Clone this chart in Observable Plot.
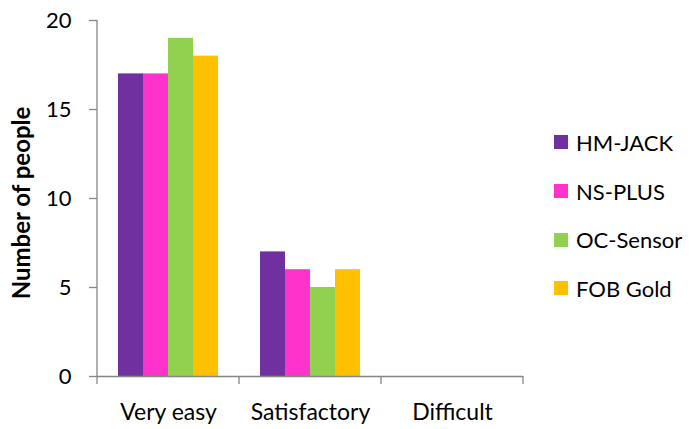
<!DOCTYPE html>
<html><head><meta charset="utf-8">
<script src="https://cdn.jsdelivr.net/npm/d3@7"></script>
<script src="https://cdn.jsdelivr.net/npm/@observablehq/plot@0.6"></script>
<style>
body{margin:0;background:#fff;font-family:Lato, sans-serif;}
#wrap{position:relative;width:691px;height:429px;overflow:hidden;}
#legend{position:absolute;left:554px;top:118px;}
.item{display:flex;align-items:center;height:48.7px;font-size:22px;color:#000;}
.sw{width:14px;height:14px;margin-right:8px;flex:none;}
</style></head><body>
<div id="wrap"><div id="chart"></div><div id="legend"></div></div>
<script>
const categories = ["Very easy", "Satisfactory", "Difficult"];
const series = ["HM-JACK", "NS-PLUS", "OC-Sensor", "FOB Gold"];
const colors = ["#7030A0", "#FF33CC", "#92D050", "#FFC000"];
const veryEasy = [17, 17, 19, 18];
const satisfactory = [7, 6, 5, 6];
const difficult = [0, 0, 0, 0];
const yTicks = [0, 5, 10, 15, 20];
const yTitle = "Number of people";

const valuesByCategory = [veryEasy, satisfactory, difficult];
const data = [];
categories.forEach((c, i) => series.forEach((s, j) => data.push({category: c, series: s, value: valuesByCategory[i][j]})));

const axisColor = "#868686";
const chart = Plot.plot({
  width: 691, height: 429,
  marginLeft: 97, marginRight: 168, marginTop: 20, marginBottom: 53,
  style: {fontFamily: "Lato, sans-serif", fontSize: "22px", color: "#000", background: "#fff"},
  fx: {domain: categories, padding: 0, label: null},
  x: {domain: series, paddingInner: 0, paddingOuter: 0.765, axis: null},
  y: {domain: [0, 20], label: null},
  color: {domain: series, range: colors},
  marks: [
    Plot.barY(data, {fx: "category", x: "series", y: "value", fill: "series"}),
    Plot.ruleY([0], {stroke: axisColor, strokeWidth: 1.3}),
    Plot.axisY({ticks: yTicks, tickSize: 8, tickPadding: 18, stroke: axisColor, strokeWidth: 1.3, label: null, fill: "#000", fontSize: 22}),
    Plot.axisFx({anchor: "bottom", tickSize: 0, tickPadding: 27, label: null, fontSize: 23, fill: "#000"})
  ]
});
document.getElementById("chart").appendChild(chart);

// axis line and boundary ticks using the plot's own scales
const fxS = chart.scale("fx"), yS = chart.scale("y");
const band = d3.scaleBand().domain(fxS.domain).range(fxS.range).padding(0);
const y0 = yS.apply(0), yTop = yS.apply(20);
const svg = d3.select(chart);
const g = svg.append("g").attr("stroke", axisColor).attr("stroke-width", 1.3);
g.append("line").attr("x1", band.range()[0]).attr("x2", band.range()[0]).attr("y1", yTop).attr("y2", y0);
const bounds = categories.map(c => band(c)).concat([band(categories[categories.length - 1]) + band.bandwidth()]);
bounds.forEach(b => g.append("line").attr("x1", b).attr("x2", b).attr("y1", y0).attr("y2", y0 + 8));
svg.append("text").attr("transform", `translate(30,${(y0 + yTop) / 2 + 5}) rotate(-90)`)
  .attr("text-anchor", "middle").attr("font-weight", "bold").attr("font-size", 24).attr("fill", "#000")
  .text(yTitle);

const legend = d3.select("#legend");
series.forEach((s, i) => {
  const it = legend.append("div").attr("class", "item");
  it.append("div").attr("class", "sw").style("background", colors[i]);
  it.append("span").text(s);
});
</script>
</body></html>
